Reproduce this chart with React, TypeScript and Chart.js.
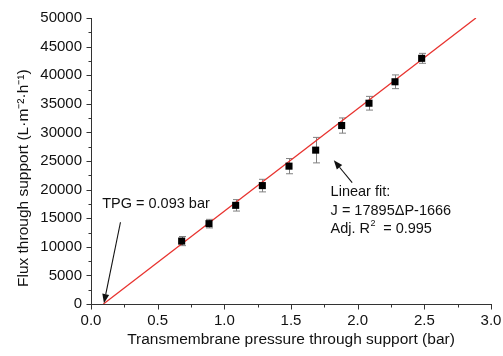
import React, { useEffect, useRef } from 'react';
import { Chart, registerables } from 'chart.js';

Chart.register(...registerables);

const pressure = [0.68, 0.885, 1.085, 1.285, 1.485, 1.685, 1.88, 2.085, 2.28, 2.48];
const flux = [11000, 14050, 17250, 20700, 24100, 26900, 31200, 35100, 38850, 42950];
const fluxErr = [800, 750, 1000, 1100, 1330, 2230, 1330, 1200, 1200, 870];

// Linear fit line endpoints (J = 17895ΔP - 1666)
const fitX = [0.093, 2.887];
const fitY = [0, 50000];

// Axis ranges / ticks
const xRange = [0, 3];
const xMajorStep = 0.5;
const xMinorStep = 0.25;
const yRange = [0, 50000];
const yMajorStep = 5000;
const yMinorStep = 2500;

const xTitle = 'Transmembrane pressure through support (bar)';
const yTitle = 'Flux through support (L·m⁻²·h⁻¹)';

const FONT = '"Liberation Sans", Arial, Helvetica, sans-serif';
const AXIS_COLOR = '#333333';

function arrow(ctx: CanvasRenderingContext2D, x1: number, y1: number, x2: number, y2: number) {
  const ang = Math.atan2(y2 - y1, x2 - x1);
  const headLen = 9;
  const headW = 3.5;
  const bx = x2 - headLen * Math.cos(ang);
  const by = y2 - headLen * Math.sin(ang);
  ctx.save();
  ctx.strokeStyle = '#111';
  ctx.fillStyle = '#111';
  ctx.lineWidth = 1.1;
  ctx.beginPath();
  ctx.moveTo(x1, y1);
  ctx.lineTo(bx, by);
  ctx.stroke();
  ctx.beginPath();
  ctx.moveTo(x2, y2);
  ctx.lineTo(bx + headW * Math.sin(ang), by - headW * Math.cos(ang));
  ctx.lineTo(bx - headW * Math.sin(ang), by + headW * Math.cos(ang));
  ctx.closePath();
  ctx.fill();
  ctx.restore();
}

const overlayPlugin = {
  id: 'overlay',
  beforeDatasetsDraw(chart: any) {
    const { ctx, scales } = chart;
    const xs = scales.x;
    const ys = scales.y;
    ctx.save();
    ctx.strokeStyle = '#808080';
    ctx.lineWidth = 1;
    for (let i = 0; i < pressure.length; i++) {
      const px = Math.round(xs.getPixelForValue(pressure[i])) + 0.5;
      const top = ys.getPixelForValue(flux[i] + fluxErr[i]);
      const bot = ys.getPixelForValue(flux[i] - fluxErr[i]);
      ctx.beginPath();
      ctx.moveTo(px, top);
      ctx.lineTo(px, bot);
      ctx.moveTo(px - 3.5, top);
      ctx.lineTo(px + 3.5, top);
      ctx.moveTo(px - 3.5, bot);
      ctx.lineTo(px + 3.5, bot);
      ctx.stroke();
    }
    ctx.restore();
  },
  afterDraw(chart: any) {
    const { ctx, scales, chartArea } = chart;
    const xs = scales.x;
    const ys = scales.y;
    ctx.save();
    // tick marks (major + minor), outside
    ctx.strokeStyle = AXIS_COLOR;
    ctx.lineWidth = 1;
    ctx.beginPath();
    const left = Math.round(chartArea.left) + 0.5;
    const bottom = Math.round(chartArea.bottom) + 0.5;
    for (let v = yRange[0]; v <= yRange[1] + 1e-6; v += yMinorStep) {
      const major = Math.abs(v / yMajorStep - Math.round(v / yMajorStep)) < 1e-6;
      const len = major ? 5 : 3;
      const py = Math.round(ys.getPixelForValue(v)) + 0.5;
      ctx.moveTo(left - len, py);
      ctx.lineTo(left, py);
    }
    for (let v = xRange[0]; v <= xRange[1] + 1e-6; v += xMinorStep) {
      const major = Math.abs(v / xMajorStep - Math.round(v / xMajorStep)) < 1e-6;
      const len = major ? 5 : 3;
      const px = Math.round(xs.getPixelForValue(v)) + 0.5;
      ctx.moveTo(px, bottom);
      ctx.lineTo(px, bottom + len);
    }
    ctx.stroke();

    // annotations
    ctx.fillStyle = '#111';
    ctx.font = `14.5px ${FONT}`;
    ctx.textBaseline = 'middle';
    ctx.textAlign = 'left';
    ctx.fillText('TPG = 0.093 bar', xs.getPixelForValue(0.084), ys.getPixelForValue(17480));
    arrow(ctx, xs.getPixelForValue(0.221), ys.getPixelForValue(14290), xs.getPixelForValue(0.097), ys.getPixelForValue(150));

    arrow(ctx, xs.getPixelForValue(1.959), ys.getPixelForValue(21230), xs.getPixelForValue(1.821), ys.getPixelForValue(25120));
    const tx = xs.getPixelForValue(1.797);
    const ty = ys.getPixelForValue(19500);
    ctx.fillText('Linear fit:', tx, ty);
    ctx.fillText('J = 17895ΔP-1666', tx, ty + 18.5);
    const l3 = 'Adj. R';
    ctx.fillText(l3, tx, ty + 37);
    const w3 = ctx.measureText(l3).width;
    ctx.font = `9px ${FONT}`;
    ctx.fillText('2', tx + w3 + 0.5, ty + 37 - 6);
    ctx.font = `14.5px ${FONT}`;
    ctx.fillText('  = 0.995', tx + w3 + 5, ty + 37);
    ctx.restore();
  },
};

export default function App() {
  const canvasRef = useRef<HTMLCanvasElement | null>(null);

  useEffect(() => {
    if (!canvasRef.current) return;
    const chart = new Chart(canvasRef.current, {
      type: 'scatter',
      data: {
        datasets: [
          {
            type: 'scatter',
            label: 'Flux',
            data: pressure.map((x, i) => ({ x, y: flux[i] })),
            pointStyle: 'rect',
            pointRadius: 5,
            backgroundColor: '#000',
            borderColor: '#000',
            borderWidth: 0,
            order: 0,
          },
          {
            type: 'line',
            label: 'Linear fit',
            data: fitX.map((x, i) => ({ x, y: fitY[i] })),
            borderColor: '#e8332f',
            borderWidth: 1.3,
            pointRadius: 0,
            showLine: true,
            fill: false,
            order: 1,
          } as any,
        ],
      },
      options: {
        animation: false,
        responsive: true,
        maintainAspectRatio: false,
        devicePixelRatio: 1,
        layout: { padding: { left: 0, right: 0, top: 16, bottom: 0 } },
        plugins: {
          legend: { display: false },
          tooltip: { enabled: false },
        },
        scales: {
          x: {
            type: 'linear',
            min: xRange[0],
            max: xRange[1],
            grid: { display: false, drawTicks: false },
            border: { display: true, color: AXIS_COLOR, width: 1 },
            ticks: {
              stepSize: xMajorStep,
              color: '#111',
              font: { family: FONT, size: 15 },
              padding: 8,
              maxRotation: 0,
              callback: (v: any) => Number(v).toFixed(1),
            },
            title: {
              display: true,
              text: xTitle,
              color: '#111',
              font: { family: FONT, size: 15.5 },
              padding: { top: 0, bottom: 7 },
            },
            afterFit: (s: any) => {
              s.height = 52;
              s.paddingRight = 12;
            },
          },
          y: {
            type: 'linear',
            min: yRange[0],
            max: yRange[1],
            grid: { display: false, drawTicks: false },
            border: { display: true, color: AXIS_COLOR, width: 1 },
            ticks: {
              stepSize: yMajorStep,
              color: '#111',
              font: { family: FONT, size: 15 },
              padding: 9,
              callback: (v: any) => String(v),
            },
            title: {
              display: true,
              text: yTitle + '        ',
              color: '#111',
              font: { family: FONT, size: 15.5 },
              padding: { top: 14, bottom: 0 },
            },
            afterFit: (s: any) => {
              s.width = 91;
            },
          },
        },
      },
      plugins: [overlayPlugin],
    });
    return () => chart.destroy();
  }, []);

  return (
    <div style={{ position: 'absolute', left: 0, top: 0, width: 503, height: 356, background: '#fff' }}>
      <canvas ref={canvasRef} />
    </div>
  );
}
